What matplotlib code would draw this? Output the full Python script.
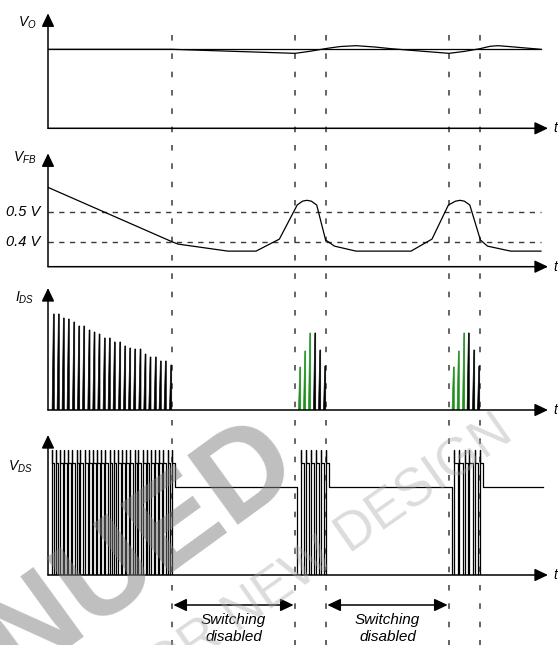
import matplotlib
matplotlib.use('Agg')
import matplotlib.pyplot as plt

plt.rcParams['font.family'] = ['Liberation Sans', 'DejaVu Sans']
plt.rcParams['mathtext.fontset'] = 'custom'
plt.rcParams['mathtext.it'] = 'Liberation Sans:italic'
plt.rcParams['mathtext.rm'] = 'Liberation Sans'
plt.rcParams['lines.scale_dashes'] = False

# ---------------- data (time in arbitrary units) ----------------
events = [12.4, 24.7, 27.8, 40.1, 43.2]
t_end = 49.3
t_axis_end = 50.0

# Output voltage (normalised)
vo_ref_t = [0.0, 49.3]
vo_ref_v = [1.0, 1.0]
vo_t = [0.0, 12.4, 24.7, 26.2, 27.8, 29.2, 30.8, 32.7, 34.3, 37.2, 40.1, 41.7,
        43.2, 44.2, 45.0, 46.2, 49.3]
vo_v = [1.0, 1.0, 0.949, 0.975, 1.010, 1.035, 1.046, 1.029, 1.008, 0.978, 0.949,
        0.975, 1.008, 1.038, 1.046, 1.034, 1.0]

# Feedback voltage (V)
vfb_t = [0.0, 12.4, 13.0, 18.0, 20.8, 23.14, 24.92, 25.45, 25.89, 26.34, 26.87,
         27.76, 28.65, 30.8, 36.3, 38.4, 40.04, 40.75, 41.2, 41.64, 42.18,
         43.24, 43.95, 46.27, 49.3]
vfb_v = [0.585, 0.400, 0.392, 0.368, 0.368, 0.409, 0.525, 0.538, 0.541, 0.538,
         0.525, 0.406, 0.385, 0.368, 0.368, 0.409, 0.525, 0.538, 0.541, 0.538,
         0.525, 0.406, 0.385, 0.368, 0.368]
vfb_levels = [0.5, 0.4]
vfb_level_labels = ['0.5 V', '0.4 V']

# Drain current pulses
ids_t1 = [0.63, 1.13, 1.63, 2.13, 2.67, 3.17, 3.67, 4.2, 4.7, 5.2, 5.73, 6.23,
          6.73, 7.27, 7.77, 8.27, 8.77, 9.3, 9.8, 10.3, 10.83, 11.33, 11.83, 12.37]
ids_h1 = [0.96, 0.96, 0.92, 0.91, 0.88, 0.84, 0.84, 0.80, 0.78, 0.76, 0.72, 0.72,
          0.68, 0.68, 0.64, 0.62, 0.61, 0.61, 0.56, 0.53, 0.53, 0.49, 0.49, 0.45]
ids_t2 = [25.27, 25.77, 26.27, 26.77, 27.27, 27.77]
ids_t3 = [40.63, 41.13, 41.67, 42.13, 42.67, 43.17]
ids_h_burst = [0.43, 0.59, 0.77, 0.77, 0.60, 0.44]
ids_green = [True, True, True, False, False, False]

# Drain voltage switching instants
vds_spk1 = [0.36, 0.79, 1.18, 1.61, 2.03, 2.42, 2.85, 3.24, 3.67, 4.10, 4.52,
            4.92, 5.34, 5.73, 6.16, 6.59, 6.98, 7.41, 7.83, 8.22, 8.65, 9.04,
            9.47, 9.90, 10.29, 10.72, 11.14, 11.53, 11.96, 12.39]
vds_spk2 = ids_t2
vds_spk3 = ids_t3
vds_burst_end = [12.7, 28.13, 43.53]
vds_next_start = [24.93, 40.37, 49.5]
vds_high, vds_peak, vds_mid = 1.12, 1.25, 0.88

# ---------------- figure ----------------
W, H = 558, 645
fig = plt.figure(figsize=(W / 100, H / 100), dpi=100)
X0 = 48
XLIM = (0, (W - X0) / 10)


def panel(base_px, top_px, ylim):
    ax = fig.add_axes([X0 / W, 1 - base_px / H, (W - X0) / W, (base_px - top_px) / H])
    ax.set_xlim(*XLIM)
    ax.set_ylim(*ylim)
    ax.set_axis_off()
    ax.patch.set_alpha(0)
    y0, y1 = ylim
    arr = dict(arrowstyle='-|>,head_length=0.8,head_width=0.38', color='black',
               lw=1.1, shrinkA=0, shrinkB=0, mutation_scale=10)
    ax.annotate('', xy=(0, y1), xytext=(0, y0), arrowprops=arr, annotation_clip=False)
    ax.annotate('', xy=(t_axis_end, y0), xytext=(0, y0), arrowprops=arr,
                annotation_clip=False)
    ax.text(t_axis_end + 0.55, y0, 't', style='italic', fontsize=10, ha='left',
            va='center', clip_on=False)
    return ax


# overlay for the dashed event lines
ov = fig.add_axes([X0 / W, 0, (W - X0) / W, 1])
ov.set_xlim(*XLIM)
ov.set_ylim(0, 1)
ov.set_axis_off()
ov.patch.set_alpha(0)
for e in events:
    ov.plot([e, e], [1 - 35 / H, 0], color='#3a3a3a', lw=1.1,
            linestyle=(0, (4.0, 9.2)))

lab_fs = 10

# Panel 1: VO
ax1 = panel(128.3, 13.3, (0, 1.456))
ax1.plot(vo_ref_t, vo_ref_v, color='black', lw=0.9)
ax1.plot(vo_t, vo_v, color='black', lw=0.9)
ax1.text(-1.1, 1.33, r'$V_{O}$', ha='right', va='center', fontsize=lab_fs, clip_on=False)

# Panel 2: VFB
ax2 = panel(266.7, 153.3, (0.315, 0.701))
for lev, lab in zip(vfb_levels, vfb_level_labels):
    ax2.plot([0, t_end], [lev, lev], color='#3a3a3a', lw=1.0, linestyle=(0, (3.8, 3.9)))
    ax2.text(-0.8, lev, lab, style='italic', ha='right', va='center',
             fontsize=lab_fs + 0.5, clip_on=False)
ax2.plot(vfb_t, vfb_v, color='black', lw=0.9)
ax2.text(-1.2, 0.685, r'$V_{FB}$', ha='right', va='center', fontsize=lab_fs, clip_on=False)

# Panel 3: IDS
ax3 = panel(410, 288, (0, 1.22))
w, wt = 0.22, 0.09
for t, h in zip(ids_t1, ids_h1):
    ax3.fill([t - w, t - wt, t, t], [0, h, h, 0], color='black', lw=0.5)
for times in (ids_t2, ids_t3):
    for t, h, g in zip(times, ids_h_burst, ids_green):
        c = '#1f8f1f' if g else 'black'
        ax3.fill([t - w, t - wt, t, t], [0, h, h, 0], color=c, lw=0.5)
ax3.text(-1.4, 1.12, r'$I_{DS}$', ha='right', va='center', fontsize=lab_fs, clip_on=False)

# Panel 4: VDS
ax4 = panel(575, 435, (0, 1.40))
low_dur = 0.15
vt, vv = [0.0], [0.0]
for k, spikes in enumerate((vds_spk1, vds_spk2, vds_spk3)):
    for i, s in enumerate(spikes):
        vt += [s, s, s]
        vv += [0, vds_peak, vds_high]
        if i < len(spikes) - 1:
            f = spikes[i + 1] - low_dur
            vt += [f, f]
            vv += [vds_high, 0]
    be, nx = vds_burst_end[k], vds_next_start[k]
    vt += [be, be, nx]
    vv += [vds_high, vds_mid, vds_mid]
    if k < 2:
        vt += [nx]
        vv += [0]
ax4.plot(vt, vv, color='black', lw=0.9)
ax4.text(-1.5, 1.083, r'$V_{DS}$', ha='right', va='center', fontsize=lab_fs, clip_on=False)

darr = dict(arrowstyle='<|-|>,head_length=0.8,head_width=0.38', color='black', lw=1.1,
            shrinkA=1, shrinkB=1, mutation_scale=10)
for a, b in ((events[0], events[1]), (events[2], events[3])):
    ax4.annotate('', xy=(b, -0.30), xytext=(a, -0.30), arrowprops=darr,
                 annotation_clip=False)
    m = (a + b) / 2
    ax4.text(m, -0.45, 'Switching', style='italic', ha='center', va='center',
             fontsize=11, clip_on=False)
    ax4.text(m, -0.62, 'disabled', style='italic', ha='center', va='center',
             fontsize=11, clip_on=False)

# watermark
fig.text(304 / W, 1 - 471 / H, 'DISCONTINUED', fontsize=90, fontweight='bold',
         color='#808080', alpha=0.5, rotation=36, rotation_mode='anchor',
         ha='right', va='baseline', zorder=20)
fig.text(515 / W, 1 - 438 / H, 'FOR NEW DESIGN', fontsize=38,
         color='#a8a8a8', alpha=0.4, rotation=35, rotation_mode='anchor',
         ha='right', va='baseline', zorder=20)

fig.savefig('out.png', dpi=100)
